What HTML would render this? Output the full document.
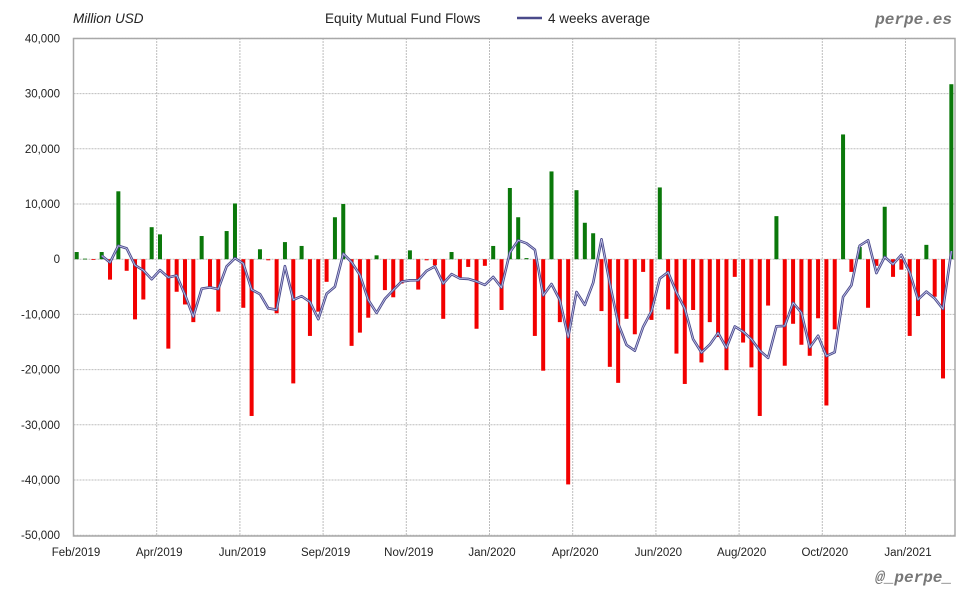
<!DOCTYPE html>
<html><head><meta charset="utf-8"><style>
html,body{margin:0;padding:0;background:#fff;}
svg{display:block;font-family:"Liberation Sans",sans-serif;}
</style></head><body>
<svg id="c" width="980" height="600" viewBox="0 0 980 600" xmlns="http://www.w3.org/2000/svg">
<rect width="980" height="600" fill="#fff"/>
<g id="grid"></g>
<g id="bars"></g>
<g id="line"></g>
<rect x="73.5" y="38.5" width="881.5" height="497.5" fill="none" stroke="#a8a8a8" stroke-width="1.5"/>
<g id="labels" font-size="11.5" fill="#222"></g>
<text x="73" y="23" font-size="13.5" font-style="italic" fill="#222">Million USD</text>
<text x="325" y="23" font-size="13.5" fill="#222">Equity Mutual Fund Flows</text>
<line x1="517" y1="18" x2="542" y2="18" stroke="#4a4a8a" stroke-width="2.5"/>
<text x="548" y="23" font-size="13.5" fill="#222">4 weeks average</text>
<text x="952" y="24" font-size="16" font-style="italic" font-weight="bold" fill="#777" text-anchor="end" font-family="Liberation Mono,monospace">perpe.es</text>
<text x="952" y="582" font-size="16" font-style="italic" font-weight="bold" fill="#777" text-anchor="end" font-family="Liberation Mono,monospace">@_perpe_</text>
</svg>
<script>
var v=[1.3,0.1,-0.1,1.3,-3.7,12.3,-2.1,-10.9,-7.3,5.8,4.5,-16.2,-5.9,-8.2,-11.4,4.2,-5,-9.5,5.1,10.1,-8.8,-28.4,1.8,-0.2,-9.8,3.1,-22.5,2.4,-13.9,-9.5,-4.1,7.6,10,-15.7,-13.3,
-10.6,0.7,-5.6,-6.9,-4.4,1.6,-5.5,-0.2,-1.1,-10.8,1.3,-3.4,-1.4,-12.6,-1.2,2.4,-9.2,12.9,7.6,0.2,-13.9,-20.2,15.9,-11.4,-40.8,12.5,6.6,4.7,-9.4,-19.5,-22.4,-10.8,-13.6,-2.3,
-11,13,-9.1,-17.1,-22.6,-9.2,-18.7,-11.4,-14.1,-20.1,-3.2,-15.1,-19.6,-28.4,-8.4,7.8,-19.3,-11.7,-15.5,-17.5,-10.7,-26.5,-12.7,22.6,-2.3,2.2,-8.8,-1.2,9.5,-3.2,-1.9,-13.9,-10.3,2.6,-6.8,-21.6,31.7];
var NS="http://www.w3.org/2000/svg";
function el(t,a,p){var e=document.createElementNS(NS,t);for(var k in a)e.setAttribute(k,a[k]);document.getElementById(p).appendChild(e);return e;}
function Y(val){return 259.2-val*5.52;}
function X(i){return 76.7+i*8.33;}
// horizontal grid + labels
for(var g=40;g>=-50;g-=10){var y=Y(g);
 el("line",{x1:73.5,x2:955,y1:y,y2:y,stroke:"#bdbdbd","stroke-width":1,"stroke-dasharray":"2,1"},"grid");
 var t=el("text",{x:60,y:y+4,"text-anchor":"end"},"labels");t.textContent=(g===0?"0":(g<0?"-":"")+Math.abs(g)+",000");}
for(var k=0;k<10;k++){var x=156.7+k*83.2;
 el("line",{x1:x,x2:x,y1:38,y2:536,stroke:"#bdbdbd","stroke-width":1,"stroke-dasharray":"2,1"},"grid");}
var xl=["Feb/2019","Apr/2019","Jun/2019","Sep/2019","Nov/2019","Jan/2020","Apr/2020","Jun/2020","Aug/2020","Oct/2020","Jan/2021"];
for(var k=0;k<xl.length;k++){var t=el("text",{x:76+k*83.2,y:556,"text-anchor":"middle"},"labels");t.textContent=xl[k];}
// bars
for(var i=0;i<v.length;i++){var y0=Y(0),y1=Y(v[i]);
 el("rect",{x:X(i)-2,y:Math.min(y0,y1),width:4,height:Math.max(0.8,Math.abs(y1-y0)),fill:v[i]>=0?"#0a780a":"#f20000"},"bars");}
// moving average
var pts=[];for(var i=3;i<v.length;i++){var s=(v[i]+v[i-1]+v[i-2]+v[i-3])/4;pts.push(X(i).toFixed(1)+","+Y(s).toFixed(1));}
el("polyline",{points:pts.join(" "),fill:"none",stroke:"#4a4a8a","stroke-width":2.6,"stroke-linejoin":"round"},"line");
el("polyline",{points:pts.join(" "),fill:"none",stroke:"#c8c8ee","stroke-width":0.8,"stroke-linejoin":"round"},"line");
</script>
</body></html>
